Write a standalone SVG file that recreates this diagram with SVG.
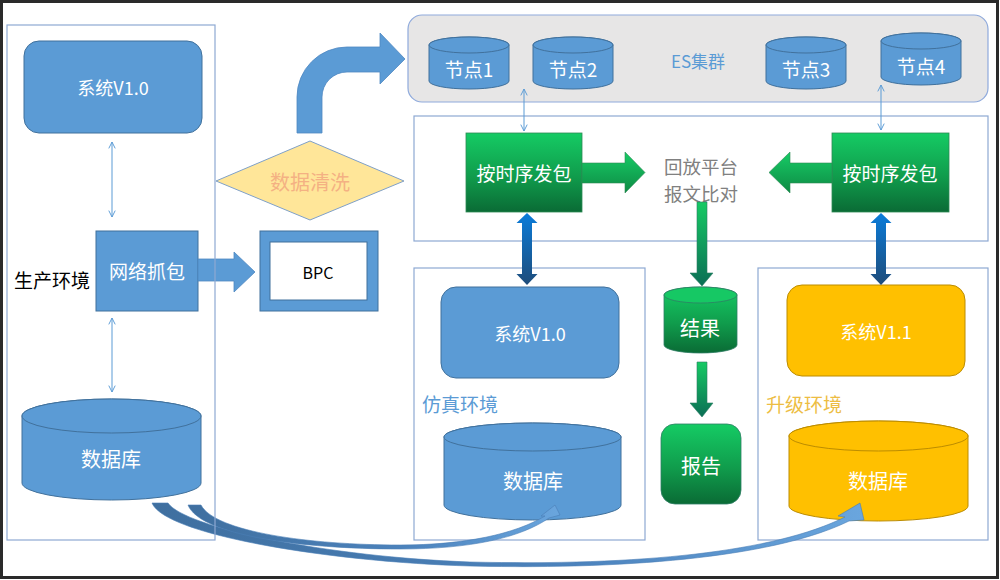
<svg xmlns="http://www.w3.org/2000/svg" width="1000" height="580" viewBox="0 0 1000 580">
<style>
.t{font-family:"Noto Sans CJK SC","Liberation Sans",sans-serif;text-anchor:middle;dominant-baseline:central}
.s{text-anchor:start}
.w{fill:#ffffff}
.panel{fill:none;stroke:#8EA9D3;stroke-width:1.2}
.blue{fill:#5B9BD5;stroke:#41719C;stroke-width:1}
.gold{fill:#FFC000;stroke:#BC8C00;stroke-width:1}
.blk{fill:#5B9BD5;stroke:#4F88C2;stroke-width:0.8}
.thin{fill:none;stroke:#5B9BD5;stroke-width:1;marker-start:url(#oa);marker-end:url(#oa)}
</style>
<defs>
<marker id="oa" viewBox="0 0 10 10" refX="9" refY="5" markerWidth="8" markerHeight="8" markerUnits="userSpaceOnUse" orient="auto-start-reverse">
<path d="M1,1 L9,5 L1,9" fill="none" stroke="#5B9BD5" stroke-width="1.2"/>
</marker>
<linearGradient id="gg" x1="0" y1="0" x2="0" y2="1">
<stop offset="0" stop-color="#15CB64"/><stop offset="0.55" stop-color="#109C4C"/><stop offset="1" stop-color="#0A6B35"/>
</linearGradient>
<linearGradient id="ga" x1="0" y1="0" x2="0" y2="1">
<stop offset="0" stop-color="#17CC66"/><stop offset="1" stop-color="#0E8A44"/>
</linearGradient>
<linearGradient id="gv" x1="0" y1="0" x2="0" y2="1">
<stop offset="0" stop-color="#16CA64"/><stop offset="1" stop-color="#0B6E55"/>
</linearGradient>
<linearGradient id="bd" x1="0" y1="0" x2="0" y2="1">
<stop offset="0" stop-color="#0A7CDA"/><stop offset="1" stop-color="#1E4C7A"/>
</linearGradient>
<linearGradient id="cv" x1="0" y1="0" x2="1" y2="0">
<stop offset="0" stop-color="#3F6F9F"/><stop offset="0.6" stop-color="#4C83BD"/><stop offset="1" stop-color="#6AA6DE"/>
</linearGradient>
</defs>

<rect x="1.5" y="1.5" width="996" height="576" fill="#ffffff" stroke="#2A2A2A" stroke-width="3"/>

<g id="es-cluster">
<rect x="408" y="15" width="580" height="87" rx="14" fill="#E7E6E6" stroke="#8FAADC" stroke-width="1.2"/>
<text class="t" x="698" y="60" font-size="17" fill="#5B9BD5">ES集群</text>
</g>
<g id="replay-platform">
<rect x="414" y="116" width="574" height="125" class="panel"/>
<text class="t" x="701" y="165.5" font-size="18.5" fill="#808080">回放平台</text>
<text class="t" x="701" y="192.5" font-size="18.5" fill="#808080">报文比对</text>
</g>
<g id="sim-env">
<rect x="414" y="268" width="231" height="272" class="panel"/>
<text class="t s" x="422" y="403" font-size="19" fill="#5B9BD5">仿真环境</text>
</g>
<g id="upgrade-env">
<rect x="758" y="268" width="230" height="272" class="panel"/>
<text class="t s" x="766" y="403" font-size="19" fill="#EDBD43">升级环境</text>
</g>

<g id="node1">
<path class="blue" d="M429,45 V81 A40,8 0 0 0 509,81 V45 A40,8 0 0 0 429,45 Z"/>
<ellipse class="blue" cx="469" cy="45" rx="40" ry="8"/>
<text class="t w" x="469" y="68" font-size="19">节点1</text>
</g>
<g id="node2">
<path class="blue" d="M533,45 V81 A40,8 0 0 0 613,81 V45 A40,8 0 0 0 533,45 Z"/>
<ellipse class="blue" cx="573" cy="45" rx="40" ry="8"/>
<text class="t w" x="573" y="68" font-size="19">节点2</text>
</g>
<g id="node3">
<path class="blue" d="M766,45 V81 A40,8 0 0 0 846,81 V45 A40,8 0 0 0 766,45 Z"/>
<ellipse class="blue" cx="806" cy="45" rx="40" ry="8"/>
<text class="t w" x="806" y="68" font-size="19">节点3</text>
</g>
<g id="node4">
<path class="blue" d="M881,41 V77 A40,8 0 0 0 961,77 V41 A40,8 0 0 0 881,41 Z"/>
<ellipse class="blue" cx="921" cy="41" rx="40" ry="8"/>
<text class="t w" x="921" y="65" font-size="19">节点4</text>
</g>

<g id="prod-system">
<rect class="blue" x="24" y="41" width="178" height="92" rx="15"/>
<text class="t w" x="113" y="87" font-size="18">系统V1.0</text>
</g>
<g id="capture">
<rect class="blue" x="96" y="231" width="102" height="80"/>
<text class="t w" x="147" y="270" font-size="19">网络抓包</text>
</g>
<g id="prod-db">
<path class="blue" d="M22,416 V483 A89.5,17 0 0 0 201,483 V416 A89.5,17 0 0 0 22,416 Z"/>
<ellipse class="blue" cx="111.5" cy="416" rx="89.5" ry="17"/>
<text class="t w" x="111" y="458" font-size="20">数据库</text>
</g>
<g id="bpc">
<rect x="260" y="231" width="118" height="80" fill="#5B9BD5" stroke="#41719C" stroke-width="1"/>
<rect x="270" y="242" width="97" height="58" fill="#ffffff" stroke="#41719C" stroke-width="1"/>
<text class="t" x="318" y="272" font-size="16" fill="#000">BPC</text>
</g>
<g id="cleaning">
<polygon points="216,181 310,141 404,181 310,220" fill="#FFE699" stroke="#7FA0C8" stroke-width="1"/>
<text class="t" x="310" y="181" font-size="20" fill="#F4B183">数据清洗</text>
</g>

<g id="sender-left">
<rect x="466" y="133" width="116" height="79" fill="url(#gg)" stroke="#2F8A55" stroke-width="0.8"/>
<text class="t w" x="524" y="172" font-size="19">按时序发包</text>
</g>
<g id="sender-right">
<rect x="832" y="133" width="117" height="79" fill="url(#gg)" stroke="#2F8A55" stroke-width="0.8"/>
<text class="t w" x="890" y="172" font-size="19">按时序发包</text>
</g>
<g id="sim-system">
<rect class="blue" x="441" y="287" width="178" height="91" rx="15"/>
<text class="t w" x="530" y="333" font-size="18">系统V1.0</text>
</g>
<g id="upgrade-system">
<rect class="gold" x="787" y="285" width="178" height="91" rx="15"/>
<text class="t w" x="876" y="331" font-size="18">系统V1.1</text>
</g>
<g id="result">
<path d="M664,295 V345 A36.5,8 0 0 0 737,345 V295 A36.5,8 0 0 0 664,295 Z" fill="url(#gg)" stroke="#2F7D64" stroke-width="0.8"/>
<ellipse cx="700.5" cy="295" rx="36.5" ry="8" fill="#16C864" stroke="#2F7D64" stroke-width="0.8"/>
<text class="t w" x="700" y="327" font-size="20">结果</text>
</g>
<g id="report">
<rect x="661" y="424" width="80" height="80" rx="14" fill="url(#gg)" stroke="#2F7D64" stroke-width="0.8"/>
<text class="t w" x="701" y="465" font-size="20">报告</text>
</g>
<g id="sim-db">
<path class="blue" d="M444,437 V505 A88.5,15 0 0 0 621,505 V437 A88.5,14 0 0 0 444,437 Z"/>
<ellipse class="blue" cx="532.5" cy="437" rx="88.5" ry="14"/>
<text class="t w" x="533" y="480" font-size="20">数据库</text>
</g>
<g id="upgrade-db">
<path class="gold" d="M789,436 V506 A89.5,15 0 0 0 968,506 V436 A89.5,15 0 0 0 789,436 Z"/>
<ellipse class="gold" cx="878.5" cy="436" rx="89.5" ry="15"/>
<text class="t w" x="878" y="480" font-size="20">数据库</text>
</g>

<g id="connectors">
<path class="blk" d="M297,133 V97 A50,50 0 0 1 347,47 H380 V33 L405,59 L380,84 V72 H347 A25,25 0 0 0 322,97 V133 Z"/>
<path class="blk" d="M198,259 H234 V252 L255,272 L234,292 V281 H198 Z"/>
<line class="thin" x1="112" y1="142" x2="112" y2="217"/>
<line class="thin" x1="112" y1="318" x2="112" y2="392"/>
<line class="thin" x1="524" y1="89" x2="524" y2="131"/>
<line class="thin" x1="881" y1="85" x2="881" y2="130"/>
<path d="M582,163 H625 V152 L645,172.5 L625,193 V183 H582 Z" fill="url(#ga)" stroke="#2F8A55" stroke-width="0.6"/>
<path d="M832,163 H790 V152 L769,172.5 L790,193 V183 H832 Z" fill="url(#ga)" stroke="#2F8A55" stroke-width="0.6"/>
<path d="M697,202 H707 V273 H713 L702,286 L690,273 H697 Z" fill="url(#gv)" stroke="#2F7D64" stroke-width="0.6"/>
<path d="M697,362 H707 V403 H713 L702,417 L690,403 H697 Z" fill="url(#gv)" stroke="#2F7D64" stroke-width="0.6"/>
<path d="M527,213 L537.5,223 H532 V274 H537.5 L527,285 L516.5,274 H522 V223 H516.5 Z" fill="url(#bd)"/>
<path d="M881,213 L891.5,223 H886 V274 H891.5 L881,285 L870.5,274 H876 V223 H870.5 Z" fill="url(#bd)"/>
<path d="M152,503 C165,535 330,562 470,566 C640,570 780,555 849,521 L864,520 L860,503 L838,516 L845,517 C775,552 640,566 470,562 C330,557 185,528 168,503 Z" fill="url(#cv)" stroke="#4A7EB5" stroke-width="0.6"/>
<path d="M188,505 C200,535 300,549 400,549 C470,549 520,538 549,518 L560,515 L555,505 L541,516 L545,516 C515,534 465,545 400,545 C310,545 215,532 201,505 Z" fill="url(#cv)" stroke="#4A7EB5" stroke-width="0.6"/>
</g>

<g id="prod-env">
<rect x="7" y="25" width="208" height="515" class="panel"/>
<text class="t s" x="14" y="279" font-size="19" fill="#000">生产环境</text>
</g>
</svg>
